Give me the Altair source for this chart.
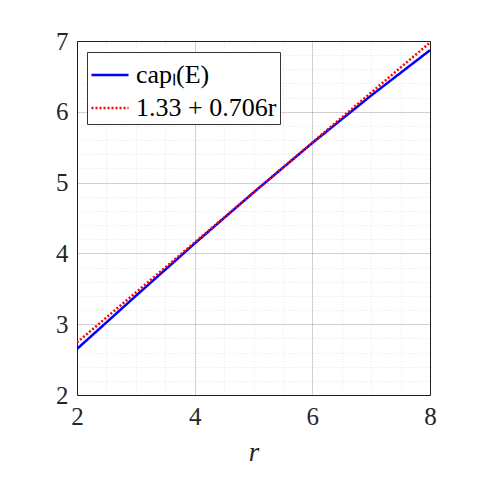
import altair as alt
import pandas as pd

r_vals = [2, 3, 4, 5, 6, 7, 8]
cap_vals = [2.65, 3.40, 4.14, 4.86, 5.56, 6.23, 6.87]
fit_vals = [2.742, 3.448, 4.154, 4.860, 5.566, 6.272, 6.978]
series_names = ["capₗ(E)", "1.33 + 0.706r"]

rows = []
for r, c in zip(r_vals, cap_vals):
    rows.append({"r": r, "v": c, "s": series_names[0]})
for r, f in zip(r_vals, fit_vals):
    rows.append({"r": r, "v": f, "s": series_names[1]})
df = pd.DataFrame(rows)

FONT = "Liberation Serif"
xmaj = [2, 4, 6, 8]
ymaj = [2, 3, 4, 5, 6, 7]
xmin = [2 + 0.5 * i for i in range(13)]
ymin = [round(2 + 0.2 * i, 1) for i in range(26)]

xs = alt.Scale(domain=[2, 8], nice=False)
ys = alt.Scale(domain=[2, 7], nice=False)

minor = alt.Chart(df).mark_line(opacity=0).encode(
    x=alt.X("r:Q", scale=xs, axis=alt.Axis(orient="top", values=xmin, labels=False, ticks=False, domain=False,
                                          title=None, grid=True, gridColor="#000", gridOpacity=0.10,
                                          gridDash=[1, 2], gridWidth=1)),
    y=alt.Y("v:Q", scale=ys, axis=alt.Axis(orient="right", values=ymin, labels=False, ticks=False, domain=False,
                                          title=None, grid=True, gridColor="#000", gridOpacity=0.10,
                                          gridDash=[1, 2], gridWidth=1)),
)

leg = dict(title=None, orient="none", legendX=10, legendY=11, symbolType="stroke",
           symbolSize=1369, symbolStrokeWidth=2.5, labelFontSize=26, labelFont=FONT, labelColor="#000",
           padding=3, strokeColor="#333", fillColor="white", rowPadding=-7,
           labelOffset=6, labelLimit=300)

lines = alt.Chart(df).mark_line(strokeWidth=2.5, clip=True).encode(
    x=alt.X("r:Q", scale=xs, axis=alt.Axis(orient="bottom", values=xmaj, title="r", titleFontStyle="italic",
                                          grid=True, gridColor="#000", gridOpacity=0.15, ticks=False,
                                          domain=False, labelPadding=9, titlePadding=10, format="d",
                                          labelFlush=False)),
    y=alt.Y("v:Q", scale=ys, axis=alt.Axis(orient="left", values=ymaj, title=None, grid=True, gridColor="#000",
                                          gridOpacity=0.15, ticks=False, domain=False, labelPadding=9,
                                          format="d", labelFlush=False)),
    color=alt.Color("s:N", scale=alt.Scale(domain=series_names, range=["#0000FF", "#FF0000"]),
                    legend=alt.Legend(**leg)),
    strokeDash=alt.StrokeDash("s:N", scale=alt.Scale(domain=series_names, range=[[1, 0], [2, 2]]),
                              legend=alt.Legend(**leg)),
)

chart = alt.layer(minor, lines).resolve_axis(x="independent", y="independent").properties(
    width=353, height=354, padding={"left": 69, "top": 33, "right": 40, "bottom": 80},
    autosize=alt.AutoSizeParams(type="none"),
).configure_view(stroke="#262626", strokeWidth=1).configure_axis(
    labelFont=FONT, labelFontSize=25, labelColor="#262626", titleFont=FONT, titleFontSize=27,
    titleColor="#262626", titleFontWeight="normal"
).configure_legend(labelFont=FONT)

chart.save("out.html", embed_options={"renderer": "svg", "actions": False})
